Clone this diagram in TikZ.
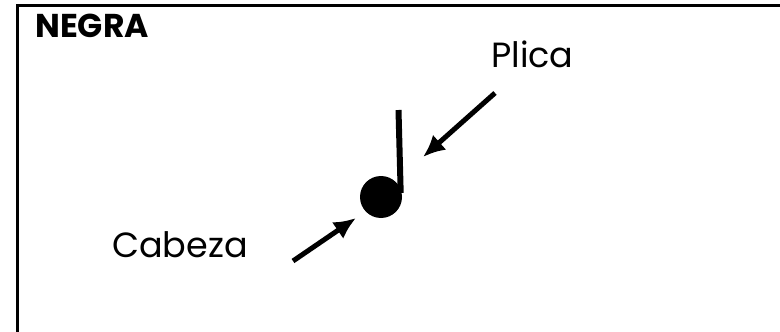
\documentclass[tikz,border=0pt]{standalone}
\usepackage{fontspec}
\setmainfont{Poppins}
\usetikzlibrary{positioning}
\usetikzlibrary{arrows.meta}

\begin{document}
\begin{tikzpicture}[x=1pt,y=-1pt]
\tikzstyle{connect}=[-{Latex[length=22pt,width=20pt]}, line width=5pt]
\tikzstyle{tag}=[inner sep=0pt, anchor=base west, font=\fontsize{35}{40}\selectfont]
\useasboundingbox (0,0) rectangle (780,332);
  \draw[line width=3pt] (780,5) -| (17.5,332);

  \node[inner sep=0pt, anchor=base west, font=\fontsize{33}{38}\selectfont\bfseries] (title) at (35,37) {NEGRA};

  \node[circle, fill=black, minimum size=42pt, inner sep=0pt] (head) at (381,197) {};
  \coordinate (stemtop) at (398.5,110);
  \draw[line width=6pt] (head.east) ++(-1.5,-4) coordinate (stembot) -- (stemtop);

  \node[tag] (plica) at (491,67) {Plica};
  \node[tag] (cabeza) at (112,257) {Cabeza};

  \coordinate (p1) at (495,93);
  \coordinate (p2) at (423,157);
  \coordinate (c1) at (293,261);
  \coordinate (c2) at (356,218);
  \draw[connect] (p1) -- (p2);
  \draw[connect] (c1) -- (c2);
\end{tikzpicture}
\end{document}
